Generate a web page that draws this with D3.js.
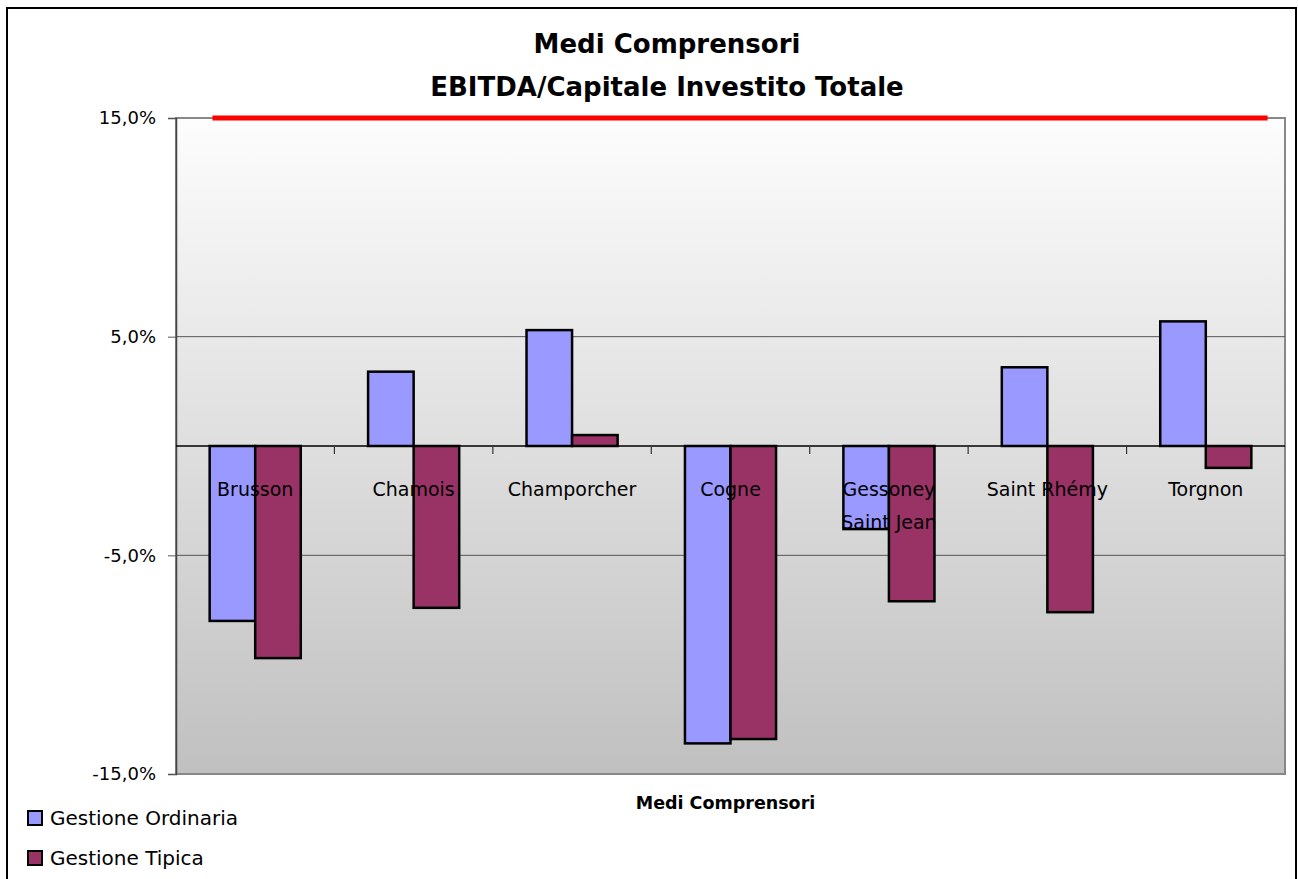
<!DOCTYPE html>
<html>
<head>
<meta charset="utf-8">
<script src="https://cdn.jsdelivr.net/npm/d3@7"></script>
<style>
  html, body { margin: 0; padding: 0; background: #fff; }
  svg { display: block; }
  text { font-family: "Comic Sans MS", "DejaVu Sans", sans-serif; fill: #000; }
</style>
</head>
<body>
<svg id="chart" width="1298" height="879"></svg>
<script>
// EBITDA / total invested capital by ski area, in percent
const categories = ["Brusson", "Chamois", "Champorcher", "Cogne", "Gessoney\nSaint Jean", "Saint Rhémy", "Torgnon"];
const seriesNames = ["Gestione Ordinaria", "Gestione Tipica"];
const gestioneOrdinaria = [-8.0, 3.4, 5.3, -13.6, -3.8, 3.6, 5.7];
const gestioneTipica = [-9.7, -7.4, 0.5, -13.4, -7.1, -7.6, -1.0];
const targetValue = 15;
const yTicks = [15, 5, -5, -15];
const titleLines = ["Medi Comprensori", "EBITDA/Capitale Investito Totale"];
const axisTitle = "Medi Comprensori";

const colors = ["#9999FF", "#993366"];

const svg = d3.select("#chart");
const plot = { left: 176, right: 1285, top: 118, bottom: 774 };

// outer frame
svg.append("rect")
  .attr("x", 7).attr("y", 8).attr("width", 1289).attr("height", 900)
  .attr("fill", "#fff").attr("stroke", "#000").attr("stroke-width", 2);

// plot background gradient
const defs = svg.append("defs");
const grad = defs.append("linearGradient").attr("id", "bg")
  .attr("x1", 0).attr("y1", 0).attr("x2", 0).attr("y2", 1);
grad.append("stop").attr("offset", "0%").attr("stop-color", "#fdfdfd");
grad.append("stop").attr("offset", "100%").attr("stop-color", "#c0c0c0");

const y = d3.scaleLinear().domain([-15, 15]).range([plot.bottom, plot.top]);
const x0 = d3.scaleBand().domain(categories)
  .range([plot.left, plot.right]).paddingInner(0.425).paddingOuter(0.2125);
const x1 = d3.scaleBand().domain(seriesNames).range([0, x0.bandwidth()]);
const xIdx = d3.scaleLinear().domain([0, categories.length]).range([plot.left, plot.right]);

// plot area with shadowed border
svg.append("rect")
  .attr("x", plot.left).attr("y", plot.top)
  .attr("width", plot.right - plot.left).attr("height", plot.bottom - plot.top)
  .attr("fill", "url(#bg)").attr("stroke", "#888").attr("stroke-width", 2);

// horizontal gridlines
svg.append("g").selectAll("line")
  .data(yTicks.filter(t => t !== 15 && t !== -15))
  .join("line")
  .attr("x1", plot.left).attr("x2", plot.right)
  .attr("y1", d => y(d)).attr("y2", d => y(d))
  .attr("stroke", "#555").attr("stroke-width", 1);

// y axis
const pct = d => d3.format(".1f")(d).replace("\u2212", "-").replace(".", ",") + "%";
const yAxis = d3.axisLeft(y).tickValues(yTicks).tickSize(8).tickPadding(12).tickFormat(pct);
const gy = svg.append("g").attr("transform", `translate(${plot.left},0)`).call(yAxis);
gy.select(".domain").attr("stroke", "#444").attr("stroke-width", 1.5);
gy.selectAll(".tick line").attr("stroke", "#555");
gy.selectAll(".tick text")
  .style("font-family", '"Comic Sans MS", "DejaVu Sans", sans-serif')
  .attr("font-size", 18).attr("fill", "#000");

// target line
svg.append("line")
  .attr("x1", xIdx(0.23)).attr("x2", xIdx(6.89))
  .attr("y1", y(targetValue)).attr("y2", y(targetValue))
  .attr("stroke", "#ff0000").attr("stroke-width", 5);

// bars
const rows = categories.map((c, i) => ({
  cat: c,
  vals: [
    { s: seriesNames[0], v: gestioneOrdinaria[i], c: colors[0] },
    { s: seriesNames[1], v: gestioneTipica[i], c: colors[1] }
  ]
}));
svg.append("g").selectAll("g")
  .data(rows).join("g")
  .attr("transform", d => `translate(${x0(d.cat)},0)`)
  .selectAll("rect")
  .data(d => d.vals).join("rect")
  .attr("x", d => x1(d.s))
  .attr("width", x1.bandwidth())
  .attr("y", d => y(Math.max(0, d.v)))
  .attr("height", d => Math.abs(y(d.v) - y(0)))
  .attr("fill", d => d.c)
  .attr("stroke", "#000").attr("stroke-width", 2.5);

// zero axis with category separators
svg.append("line")
  .attr("x1", plot.left).attr("x2", plot.right)
  .attr("y1", y(0)).attr("y2", y(0))
  .attr("stroke", "#000").attr("stroke-width", 1.5);
svg.append("g").selectAll("line")
  .data(d3.range(1, categories.length))
  .join("line")
  .attr("x1", d => xIdx(d)).attr("x2", d => xIdx(d))
  .attr("y1", y(0)).attr("y2", y(0) + 8)
  .attr("stroke", "#333").attr("stroke-width", 1.2);

// category labels
const lbl = svg.append("g").selectAll("text")
  .data(categories).join("text")
  .attr("x", d => x0(d) + x0.bandwidth() / 2)
  .attr("y", y(0) + 50)
  .attr("text-anchor", "middle")
  .attr("font-size", 19);
lbl.each(function (d) {
  const t = d3.select(this);
  const cx = x0(d) + x0.bandwidth() / 2;
  d.split("\n").forEach((line, i) => {
    t.append("tspan").attr("x", cx).attr("dy", i === 0 ? 0 : 33).text(line);
  });
});

// titles
svg.append("g").selectAll("text")
  .data(titleLines).join("text")
  .attr("x", 667)
  .attr("y", (d, i) => 53 + i * 43)
  .attr("text-anchor", "middle")
  .attr("font-size", 26).attr("font-weight", "bold")
  .text(d => d);

svg.append("text")
  .attr("x", (plot.left + plot.right) / 2 - 5).attr("y", 809)
  .attr("text-anchor", "middle")
  .attr("font-size", 17.5).attr("font-weight", "bold")
  .text(axisTitle);

// legend
const leg = svg.append("g").selectAll("g")
  .data(seriesNames).join("g")
  .attr("transform", (d, i) => `translate(28,${811 + i * 40})`);
leg.append("rect")
  .attr("width", 14).attr("height", 14)
  .attr("fill", (d, i) => colors[i])
  .attr("stroke", "#000").attr("stroke-width", 2);
leg.append("text")
  .attr("x", 22).attr("y", 14)
  .attr("font-size", 20)
  .text(d => d);
</script>
</body>
</html>
